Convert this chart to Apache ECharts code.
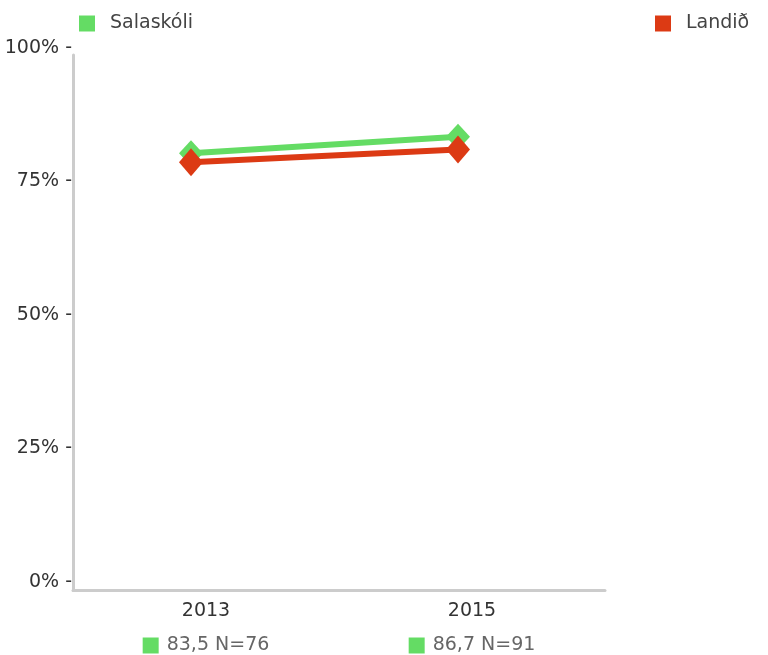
<!DOCTYPE html>
<html>
<head>
<meta charset="utf-8">
<script src="https://cdn.jsdelivr.net/npm/echarts@6/dist/echarts.min.js"></script>
<style>
  html, body { margin: 0; padding: 0; background: #fff; }
  #chart { width: 768px; height: 655px; }
</style>
</head>
<body>
<div id="chart"></div>
<script>
// chart data
const years = ['2013', '2015']
const schoolName = 'Salaskóli'
const countryName = 'Landið'
const schoolValues = [80.3, 83.4]
const countryValues = [78.6, 81.0]
const schoolMeans = ['83,5', '86,7']
const schoolCounts = [76, 91]
const yTicks = [0, 25, 50, 75, 100]

const green = '#64dc64'
const red = '#dc3a14'
const font = 'DejaVu Sans'

const chart = echarts.init(document.getElementById('chart'))

const legendText = { fontSize: 19, color: '#444', fontFamily: font, padding: [0, 0, 0, 10] }

const option = {
  backgroundColor: '#fff',
  animation: false,
  textStyle: { fontFamily: font },
  legend: [
    {
      left: 79,
      top: 14,
      padding: 0,
      icon: 'rect',
      itemWidth: 16,
      itemHeight: 16,
      data: [schoolName],
      textStyle: legendText
    },
    {
      left: 655,
      top: 14,
      padding: 0,
      icon: 'rect',
      itemWidth: 16,
      itemHeight: 16,
      data: [countryName],
      textStyle: legendText
    }
  ],
  grid: [
    // frame with the axis lines
    { left: 73, right: 163, top: 55, bottom: 64 },
    // plotting area for the lines
    { left: 191, right: 310, top: 48, bottom: 73 }
  ],
  xAxis: [
    {
      gridIndex: 0,
      type: 'category',
      data: years,
      boundaryGap: true,
      axisLine: { lineStyle: { color: '#cccccc', width: 3 } },
      axisTick: { show: false },
      axisLabel: {
        margin: 4,
        formatter: function(value, index) {
          return '{yr|' + value + '}\n{sq| }{n|' + schoolMeans[index] + ' N=' + schoolCounts[index] + '}'
        },
        rich: {
          yr: { fontSize: 19, color: '#333', lineHeight: 34, fontFamily: font },
          sq: { backgroundColor: green, width: 16, height: 16, lineHeight: 34 },
          n: { fontSize: 19, color: '#666', lineHeight: 34, padding: [0, 0, 0, 8], fontFamily: font }
        }
      }
    },
    {
      gridIndex: 1,
      type: 'category',
      data: years,
      boundaryGap: false,
      show: false
    }
  ],
  yAxis: [
    {
      gridIndex: 0,
      type: 'value',
      min: 0,
      max: 1,
      axisLine: { show: true, lineStyle: { color: '#cccccc', width: 3 } },
      axisTick: { show: false },
      axisLabel: { show: false },
      splitLine: { show: false }
    },
    {
      gridIndex: 1,
      type: 'value',
      min: 0,
      max: 100,
      interval: 25,
      offset: 118,
      axisLine: { show: false },
      axisTick: { show: false },
      splitLine: { show: false },
      axisLabel: {
        margin: 1,
        fontSize: 19,
        color: '#333',
        fontFamily: font,
        customValues: yTicks,
        formatter: v => v + '% -'
      }
    }
  ],
  series: [
    {
      name: schoolName,
      type: 'line',
      xAxisIndex: 1,
      yAxisIndex: 1,
      data: schoolValues,
      symbol: 'diamond',
      symbolSize: [24, 26],
      color: green,
      lineStyle: { width: 6, color: green },
      itemStyle: { color: green }
    },
    {
      name: countryName,
      type: 'line',
      xAxisIndex: 1,
      yAxisIndex: 1,
      data: countryValues,
      symbol: 'diamond',
      symbolSize: [24, 28],
      color: red,
      lineStyle: { width: 6, color: red },
      itemStyle: { color: red }
    }
  ]
}

chart.setOption(option)
</script>
</body>
</html>
